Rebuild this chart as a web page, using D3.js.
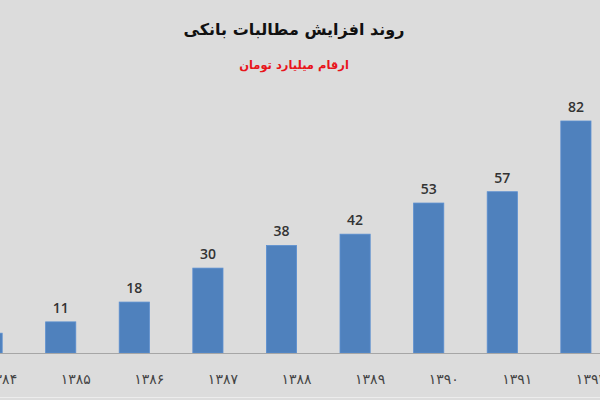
<!DOCTYPE html>
<html>
<head>
<meta charset="utf-8">
<script src="https://cdn.jsdelivr.net/npm/d3@7"></script>
<style>
  html, body { margin: 0; padding: 0; background: #dcdcdc; }
  #chart { width: 600px; height: 400px; overflow: hidden; }
</style>
</head>
<body>
<div id="chart"></div>
<script>
// years (Persian digits) and values in billion toman
var years = ["۱۳۸۴", "۱۳۸۵", "۱۳۸۶", "۱۳۸۷", "۱۳۸۸", "۱۳۸۹", "۱۳۹۰", "۱۳۹۱", "۱۳۹۲"];
var values = [7, 11, 18, 30, 38, 42, 53, 57, 82];
var valueLabels = ["", "11", "18", "30", "38", "42", "53", "57", "82"];
var title = "روند افزایش مطالبات بانکی";
var subtitle = "ارقام میلیارد تومان";

function draw_barchart() {
    const width = 600, height = 400;

    var svg = d3.select("#chart")
        .append("svg")
        .attr("width", width)
        .attr("height", height);

    svg.append("rect")
        .attr("width", width)
        .attr("height", height)
        .attr("fill", "#dcdcdc");

    // the picture is cropped, so the band runs past both edges
    var x = d3.scaleBand()
        .domain(years)
        .range([-49.7, 612.7])
        .paddingInner(0.59)
        .paddingOuter(0.295);

    var y = d3.scaleLinear()
        .domain([0, 82])
        .range([353, 121]);

    // title
    svg.append("text")
        .attr("x", 294)
        .attr("y", 35)
        .attr("text-anchor", "middle")
        .attr("direction", "rtl")
        .style("font-family", "DejaVu Sans")
        .style("font-weight", "bold")
        .style("font-size", "16px")
        .attr("fill", "#111")
        .text(title);

    svg.append("text")
        .attr("x", 294)
        .attr("y", 69)
        .attr("text-anchor", "middle")
        .attr("direction", "rtl")
        .style("font-family", "DejaVu Sans")
        .style("font-weight", "bold")
        .style("font-size", "11.5px")
        .attr("fill", "#e8141b")
        .text(subtitle);

    // bars
    svg.selectAll(".bar")
        .data(values)
        .enter()
        .append("rect")
        .attr("class", "bar")
        .attr("x", function(d, i) { return x(years[i]); })
        .attr("width", x.bandwidth())
        .attr("y", function(d) { return y(d); })
        .attr("height", function(d) { return y(0) - y(d); })
        .attr("fill", "#4f81bd")
        .attr("stroke", "#5b8fd0")
        .attr("stroke-width", 0.8);

    // value labels
    svg.selectAll(".val")
        .data(values)
        .enter()
        .append("text")
        .attr("class", "val")
        .attr("x", function(d, i) { return x(years[i]) + x.bandwidth() / 2; })
        .attr("y", function(d) { return y(d) - 9; })
        .attr("text-anchor", "middle")
        .style("font-family", "Open Sans")
        .style("font-weight", "600")
        .style("font-size", "14px")
        .attr("fill", "#333")
        .text(function(d, i) { return valueLabels[i]; });

    // x axis
    var xAxis = d3.axisBottom(x).tickSize(0).tickPadding(21);
    var gx = svg.append("g")
        .attr("transform", `translate(0, ${y(0)})`)
        .call(xAxis);
    gx.select(".domain").remove();
    gx.selectAll("text")
        .attr("dx", 15)
        .style("font-family", "DejaVu Sans")
        .style("font-size", "14px")
        .attr("fill", "#444");

    svg.append("line")
        .attr("x1", 0)
        .attr("x2", width)
        .attr("y1", y(0) + 0.5)
        .attr("y2", y(0) + 0.5)
        .attr("stroke", "#a6a6a6")
        .attr("stroke-width", 1);

    svg.append("line")
        .attr("x1", 0)
        .attr("x2", width)
        .attr("y1", 397.5)
        .attr("y2", 397.5)
        .attr("stroke", "#ececec")
        .attr("stroke-width", 1);
}

draw_barchart();
</script>
</body>
</html>
